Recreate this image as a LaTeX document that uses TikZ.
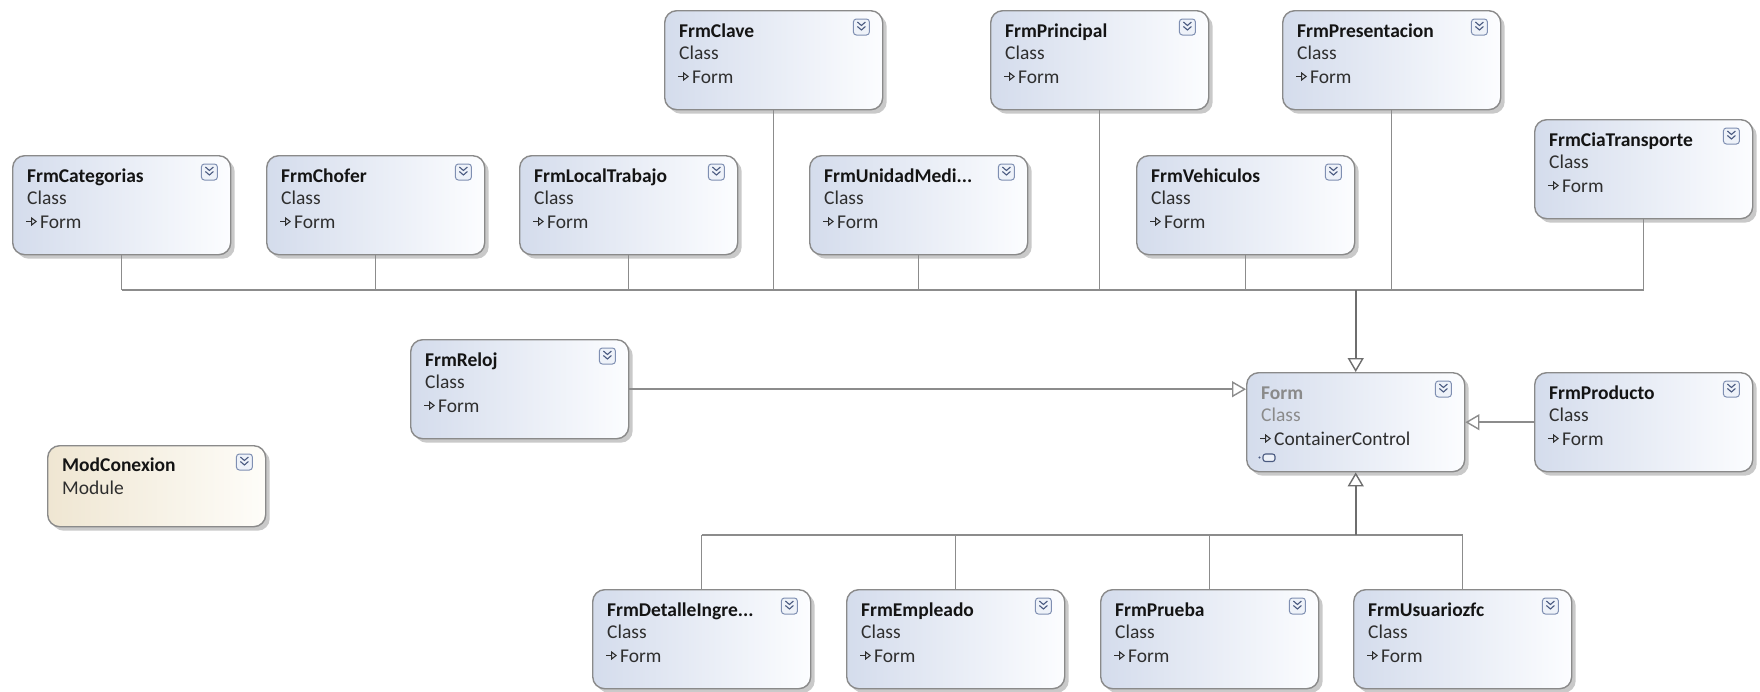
\documentclass[tikz,border=0pt]{standalone}
\usepackage{fontspec}
\setmainfont{Carlito}
\usetikzlibrary{arrows.meta,calc,shadows}

\definecolor{boxedge}{HTML}{8A8A8A}
\definecolor{classL}{HTML}{D4DCEC}
\definecolor{classR}{HTML}{FCFDFF}
\definecolor{modL}{HTML}{EFE6D2}
\definecolor{modR}{HTML}{FEFDF9}
\definecolor{linec}{HTML}{8C8C8C}
\definecolor{trunkc}{HTML}{6E6E6E}
\definecolor{titlec}{HTML}{141414}
\definecolor{kindc}{HTML}{2E2E2E}
\definecolor{mutedc}{HTML}{8A8A8A}
\definecolor{btnedge}{HTML}{7F8FB2}
\definecolor{btnfill}{HTML}{EEF2F9}
\definecolor{btnmark}{HTML}{4A5A80}

\newcommand\boxfont{\fontsize{19.5}{23}\selectfont}

\tikzset{
  shapebase/.style={draw=boxedge, line width=1.4pt, rounded corners=12pt,
    minimum width=218pt, inner sep=0pt, anchor=north west,
    drop shadow={shadow xshift=4pt, shadow yshift=-4pt, opacity=0.35, fill=black!60}},
  classbox/.style={shapebase, minimum height=99pt, left color=classL, right color=classR},
  modbox/.style={shapebase, minimum height=81pt, left color=modL, right color=modR},
  titletext/.style={anchor=base west, inner sep=0pt, font=\boxfont\bfseries, text=titlec},
  kindtext/.style={anchor=base west, inner sep=0pt, font=\boxfont, text=kindc},
  glyph/.style={draw=kindc, line width=1.1pt, -{Triangle[open, length=6pt, width=9pt]}},
  btnbox/.style={draw=btnedge, fill=btnfill, line width=1pt, rounded corners=3pt},
  btnmarks/.style={draw=btnmark, line width=1.1pt},
  branch/.style={draw=linec, line width=1.4pt},
  trunk/.style={draw=trunkc, line width=2.4pt,
    -{Triangle[open, length=14pt, width=16pt, line width=1.4pt]}},
  genline/.style={draw=linec, line width=1.6pt,
    -{Triangle[open, length=14pt, width=16pt, line width=1.4pt]}},
}

% collapse button in the top right corner of a box
\newcommand\collapsebtn[1]{%
  \coordinate (#1-btn) at ($(#1.north east)+(-22,17)$);
  \draw[btnbox] ($(#1-btn)+(-8,-8)$) rectangle ($(#1-btn)+(8,8)$);
  \draw[btnmarks] ($(#1-btn)+(-4,-5)$) -- ++(4,3.5) -- ++(4,-3.5);
  \draw[btnmarks] ($(#1-btn)+(-4,-0.5)$) -- ++(4,3.5) -- ++(4,-3.5);
}

% class shape: name, left, top, title, base type
\newcommand\typebox[5]{%
  \node[classbox] (#1) at (#2,#3) {};
  \node[titletext] (#1-title) at ($(#1.north west)+(15,27)$) {#4};
  \node[kindtext] (#1-kind) at ($(#1.north west)+(15,49)$) {Class};
  \draw[glyph] ($(#1.north west)+(14,66.5)$) -- ++(11,0);
  \node[kindtext] (#1-base) at ($(#1.north west)+(28,73)$) {#5};
  \collapsebtn{#1}
}

\begin{document}
\begin{tikzpicture}[x=1pt, y=-1pt]
  \fill[white] (0,0) rectangle (1760,691);
  \useasboundingbox (0,0) rectangle (1760,691);

  % upper rows
  \typebox{clave}{664}{10}{FrmClave}{Form}
  \typebox{principal}{990}{10}{FrmPrincipal}{Form}
  \typebox{presentacion}{1282}{10}{FrmPresentacion}{Form}
  \typebox{categorias}{12}{155}{FrmCategorias}{Form}
  \typebox{chofer}{266}{155}{FrmChofer}{Form}
  \typebox{local}{519}{155}{FrmLocalTrabajo}{Form}
  \typebox{unidad}{809}{155}{FrmUnidadMedi...}{Form}
  \typebox{vehiculos}{1136}{155}{FrmVehiculos}{Form}
  \typebox{cia}{1534}{119}{FrmCiaTransporte}{Form}

  % middle row
  \typebox{reloj}{410}{339}{FrmReloj}{Form}
  \typebox{producto}{1534}{372}{FrmProducto}{Form}

  % base class
  \node[classbox] (form) at (1246,372) {};
  \node[titletext, text=mutedc] (form-title) at ($(form.north west)+(15,27)$) {Form};
  \node[kindtext, text=mutedc] (form-kind) at ($(form.north west)+(15,49)$) {Class};
  \draw[glyph] ($(form.north west)+(14,66.5)$) -- ++(11,0);
  \node[kindtext] (form-base) at ($(form.north west)+(28,73)$) {ContainerControl};
  \fill[btnmark] ($(form.north west)+(13.5,85.5)$) circle (1.2);
  \draw[draw=btnmark, fill=btnfill, line width=1.1pt, rounded corners=2.5pt]
    ($(form.north west)+(17,82)$) rectangle ($(form.north west)+(29,89.5)$);
  \collapsebtn{form}

  % module
  \node[modbox] (mod) at (47,445) {};
  \node[titletext] (mod-title) at ($(mod.north west)+(15,26)$) {ModConexion};
  \node[kindtext] (mod-kind) at ($(mod.north west)+(15,49)$) {Module};
  \collapsebtn{mod}

  % lower row
  \typebox{detalle}{592}{589}{FrmDetalleIngre...}{Form}
  \typebox{empleado}{846}{589}{FrmEmpleado}{Form}
  \typebox{prueba}{1100}{589}{FrmPrueba}{Form}
  \typebox{usuario}{1353}{589}{FrmUsuariozfc}{Form}

  % inheritance from the upper rows
  \coordinate (topbus) at (0,290);
  \foreach \n in {categorias,chofer,local,clave,unidad,principal,vehiculos,presentacion,cia}
    \draw[branch] (\n.south) -- (\n.south |- topbus);
  \draw[branch] (categorias.south |- topbus) -- (cia.south |- topbus);
  \draw[trunk] (form.north |- topbus) -- (form.north);

  % inheritance from the lower row
  \coordinate (botbus) at (0,535);
  \foreach \n in {detalle,empleado,prueba,usuario}
    \draw[branch] (\n.north) -- (\n.north |- botbus);
  \draw[branch] (detalle.north |- botbus) -- (usuario.north |- botbus);
  \draw[trunk] (form.south |- botbus) -- (form.south);

  % side inheritance
  \draw[genline] (reloj.east) -- (reloj.east -| form.west);
  \draw[genline] (producto.west) -- (producto.west -| form.east);
\end{tikzpicture}
\end{document}
